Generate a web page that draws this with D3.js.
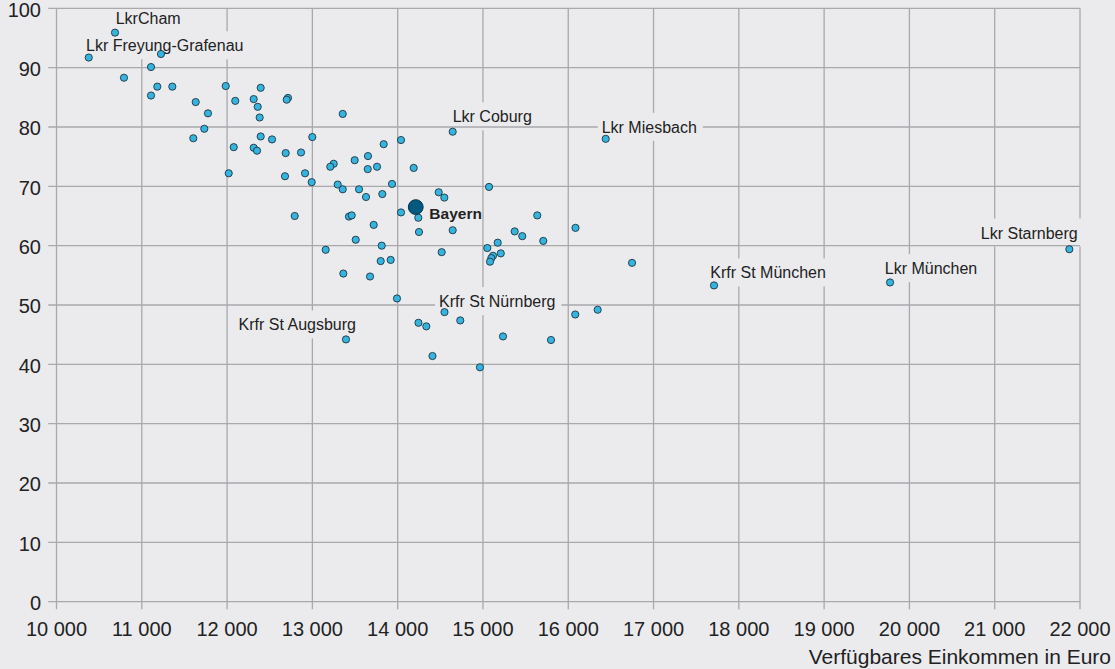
<!DOCTYPE html>
<html><head><meta charset="utf-8">
<script src="https://cdn.jsdelivr.net/npm/d3@7"></script>
<style>
html,body{margin:0;padding:0;background:#ebebee;}
svg{display:block;}
text{font-family:"Liberation Sans",Arial,Helvetica,sans-serif;fill:#222;}
</style></head>
<body>
<svg id="chart" width="1115" height="669"></svg>
<script>
// ---- data ----
const income = [10686,10378,11225,11108,10791,11182,11358,11108,11984,12394,
11632,12096,12312,12714,12699,12359,11776,12382,13356,11733,
11604,12394,12527,12999,12078,12312,12351,12687,12867,13250,
13210,12019,12679,12914,12992,13297,13356,13836,14039,13496,
13652,13649,13758,14188,13547,13629,13820,13934,14039,14242,
14250,12793,13429,13461,13719,13508,13813,13156,13801,13918,
15071,14481,14547,14645,15637,14516,13363,13676,15372,15461,
15707,15051,15173,15209,15118,15098,15083,13992,14549,14734,
14244,14336,15235,13394,14408,14965,15798,14645,16439,16085,
16748,16082,16345,17709,19773,21875];
const share = [95.9,91.7,92.3,90.1,88.3,86.8,86.8,85.3,86.9,86.6,
84.2,84.4,84.7,84.9,84.6,83.4,82.3,81.6,82.2,79.7,
78.1,78.4,77.9,78.3,76.6,76.5,76.0,75.6,75.7,73.8,
73.3,72.2,71.7,72.2,70.7,70.3,69.5,77.1,77.8,74.4,
75.1,72.9,73.3,73.1,69.5,68.2,68.7,70.4,65.6,64.7,
62.3,65.0,64.9,65.1,63.5,61.0,60.0,59.3,57.4,57.6,
69.9,69.0,68.1,62.6,65.1,58.9,55.3,54.8,62.4,61.6,
60.8,59.6,60.5,58.7,58.3,57.9,57.3,51.1,48.8,47.4,
47.0,46.4,44.7,44.2,41.4,39.5,44.1,79.2,78.0,63.0,
57.1,48.4,49.2,53.3,53.8,59.4];
const bavaria = {name:"Bayern", income:14212, share:66.5};
const labelNames = ["LkrCham","Lkr Freyung-Grafenau","Lkr Coburg","Lkr Miesbach","Krfr St Nürnberg","Krfr St Augsburg","Krfr St München","Lkr München","Lkr Starnberg"];
const labelPoint = [0,1,87,88,78,83,93,94,95];
const xTicks = [10000,11000,12000,13000,14000,15000,16000,17000,18000,19000,20000,21000,22000];
const yTicks = [0,10,20,30,40,50,60,70,80,90,100];
const xTitle = "Verfügbares Einkommen in Euro";

// ---- label layout (style) ----
const labelStyle = [
  {anchor:"start", dx:0.7,  dy:-8.7, top:false},
  {anchor:"start", dx:-2.7, dy:-6.3, top:false},
  {anchor:"start", dx:0,    dy:-9.4, top:false},
  {anchor:"start", dx:-4,   dy:-6,   top:true},
  {anchor:"start", dx:-5.5, dy:-5,   top:true},
  {anchor:"end",   dx:10,   dy:-9,   top:false},
  {anchor:"start", dx:-3.7, dy:-7,   top:false},
  {anchor:"start", dx:-5.3, dy:-8.3, top:false},
  {anchor:"end",   dx:8.4,  dy:-10.7,top:false}
];

const BG = "#ebebee", GRID = "#a9a9ac";
const svg = d3.select("#chart");
const x = d3.scaleLinear().domain([10000,22000]).range([56.5,1080]);
const y = d3.scaleLinear().domain([0,100]).range([601.7,8.3]);
const fmt = d3.formatLocale({decimal:",",thousands:" ",grouping:[3],currency:["","€"]}).format(",");

svg.append("rect").attr("width",1115).attr("height",669).attr("fill",BG);

// vertical grid
svg.append("g").selectAll("line").data(xTicks).join("line")
  .attr("x1",d=>x(d)).attr("x2",d=>x(d))
  .attr("y1",y(100)).attr("y2",y(0)+7.6)
  .attr("stroke",GRID).attr("stroke-width",1.3);

const labelsData = labelNames.map((n,i)=>({name:n, i:labelPoint[i], s:labelStyle[i]}));
const layerA = svg.append("g");
// horizontal grid
svg.append("g").selectAll("line").data(yTicks).join("line")
  .attr("x1",x(10000)-8.2).attr("x2",x(22000))
  .attr("y1",d=>y(d)).attr("y2",d=>y(d))
  .attr("stroke",GRID).attr("stroke-width",1.3);
const layerB = svg.append("g");
const textLayer = svg.append("g");

labelsData.forEach(l=>{
  const px = x(income[l.i]), py = y(share[l.i]);
  const t = textLayer.append("text")
    .attr("x",px+l.s.dx).attr("y",py+l.s.dy)
    .attr("text-anchor",l.s.anchor)
    .attr("font-size",16).text(l.name);
  const bb = t.node().getBBox();
  const base = py+l.s.dy;
  (l.s.top?layerB:layerA).append("rect")
    .attr("x",bb.x-4).attr("y",base-20)
    .attr("width",bb.width+10).attr("height",28)
    .attr("fill",BG);
});

// Bayern label
textLayer.append("text")
  .attr("x",x(bavaria.income)+13.6).attr("y",y(bavaria.share)+12)
  .attr("font-size",15.5).attr("font-weight","bold").text(bavaria.name);

// x tick labels
svg.append("g").selectAll("text").data(xTicks).join("text")
  .attr("x",d=>x(d)).attr("y",636).attr("text-anchor","middle")
  .attr("font-size",20).text(d=>fmt(d));
// y tick labels
svg.append("g").selectAll("text").data(yTicks).join("text")
  .attr("x",41).attr("y",d=>y(d)+8.4).attr("text-anchor","end")
  .attr("font-size",20).text(d=>d);
// x title
svg.append("text").attr("x",1111).attr("y",664).attr("text-anchor","end")
  .attr("font-size",21).text(xTitle);

// points
svg.append("g").selectAll("circle").data(income.map((v,i)=>[v,share[i]])).join("circle")
  .attr("cx",d=>x(d[0])).attr("cy",d=>y(d[1])).attr("r",3.6)
  .attr("fill","#36b4e0").attr("stroke","#1d3441").attr("stroke-width",0.9);
svg.append("circle")
  .attr("cx",x(bavaria.income)).attr("cy",y(bavaria.share)).attr("r",7.4)
  .attr("fill","#005a80").attr("stroke","#063247").attr("stroke-width",1);
</script>
</body></html>
